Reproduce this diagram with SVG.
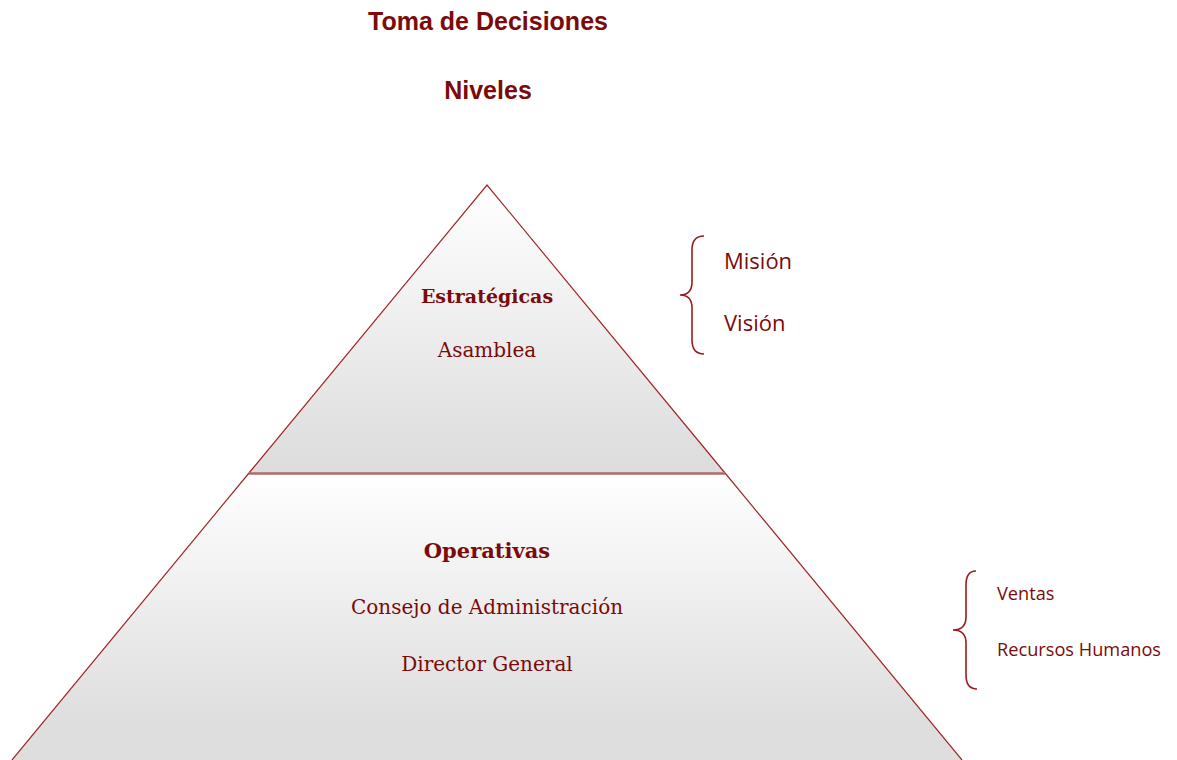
<svg xmlns="http://www.w3.org/2000/svg" width="1177" height="760" viewBox="0 0 1177 760">
<style>
.title{font-family:"Liberation Sans",Arial,sans-serif;font-weight:bold;font-size:25px;fill:#7b0a0a;text-anchor:middle}
.serif{font-family:"DejaVu Serif","Liberation Serif",serif;font-size:20px;fill:#7b0a0a;text-anchor:middle}
.serifb{font-family:"DejaVu Serif","Liberation Serif",serif;font-weight:bold;font-size:19px;fill:#7b0a0a;text-anchor:middle}
.side{font-family:"Open Sans","Liberation Sans",sans-serif;fill:#7b0a0a}
.edge{stroke:#a3262a;stroke-width:1.2;fill:none}
.brace{stroke:#9b1c1f;stroke-width:1.6;fill:none}
</style>
<defs>
<linearGradient id="gTop" x1="0" y1="185" x2="0" y2="473" gradientUnits="userSpaceOnUse">
<stop offset="0" stop-color="#ffffff"/><stop offset="1" stop-color="#dcdcdc"/>
</linearGradient>
<linearGradient id="gBot" x1="0" y1="473" x2="0" y2="720" gradientUnits="userSpaceOnUse">
<stop offset="0" stop-color="#ffffff"/><stop offset="1" stop-color="#dedede"/>
</linearGradient>
</defs>
<text class="title" x="488" y="30">Toma de Decisiones</text>
<text class="title" x="488" y="99">Niveles</text>
<g id="operativas">
<path d="M249,473 L725,473 L962,760 L12,760 Z" fill="url(#gBot)"/>
<path class="edge" d="M249,473 L12,760 M725,473 L962,760"/>
<text class="serifb" x="487" y="558" style="font-size:21px">Operativas</text>
<text class="serif" x="487" y="614">Consejo de Administración</text>
<text class="serif" x="487" y="671">Director General</text>
</g>
<g id="estrategicas">
<path d="M487,185 L725,473 L249,473 Z" fill="url(#gTop)"/>
<path class="edge" d="M249,473 L487,185 L725,473"/>
<line x1="249" y1="473.5" x2="725" y2="473.5" stroke="#b5686a" stroke-width="2.5"/>
<text class="serifb" x="487" y="303">Estratégicas</text>
<text class="serif" x="487" y="357">Asamblea</text>
</g>
<g id="brace1">
<path class="brace" d="M704,236 Q692,236 692,250 L692,282 Q692,295 680,295 Q692,295 692,308 L692,340 Q692,354 704,354"/>
<text class="side" x="724" y="269" font-size="22">Misión</text>
<text class="side" x="724" y="331" font-size="22">Visión</text>
</g>
<g id="brace2">
<path class="brace" d="M976,571 Q966,571 966,585 L966,617 Q966,630 953,630 Q966,630 966,643 L966,675 Q966,689 977,689"/>
<text class="side" x="997" y="600" font-size="18.2">Ventas</text>
<text class="side" x="997" y="656" font-size="18.2">Recursos Humanos</text>
</g>
</svg>
